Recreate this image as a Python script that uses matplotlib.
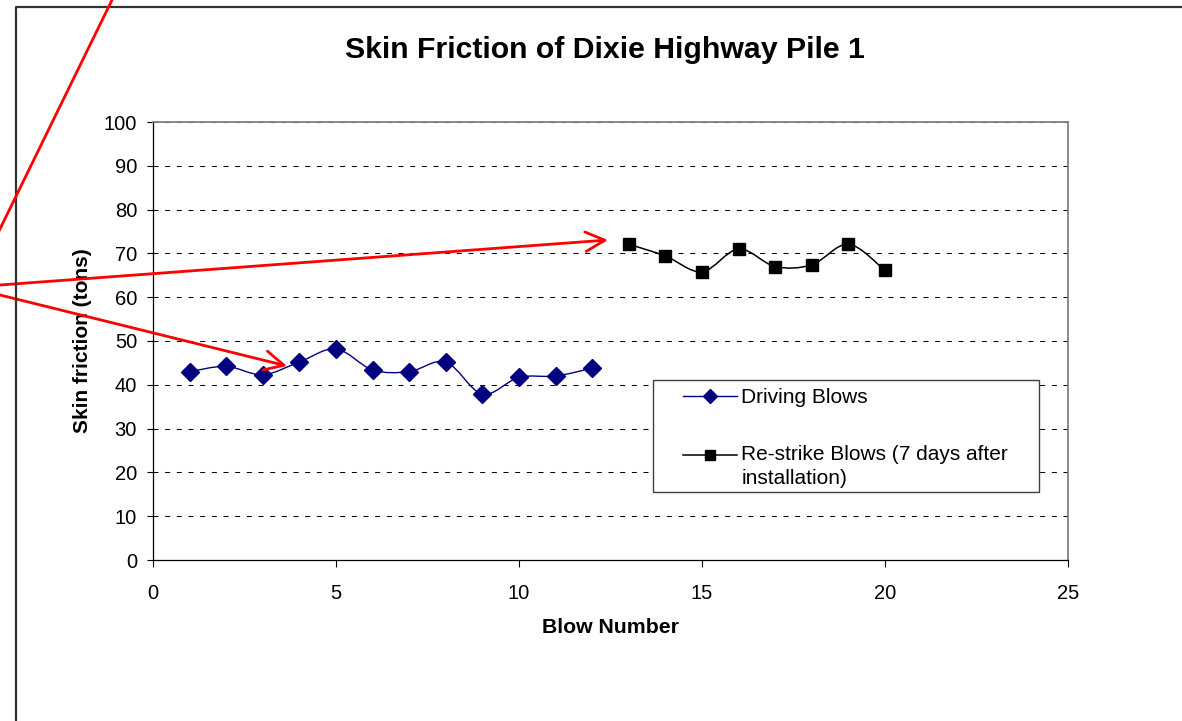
import matplotlib
matplotlib.use('Agg')
import matplotlib.pyplot as plt
import numpy as np
from matplotlib.path import Path
from matplotlib.patches import PathPatch, Rectangle
from matplotlib.lines import Line2D
from matplotlib.legend_handler import HandlerLine2D

# blow numbers and measured skin friction (tons)
driving_blow = [1, 2, 3, 4, 5, 6, 7, 8, 9, 10, 11, 12]
driving_friction = [43.0, 44.2, 42.3, 45.2, 48.2, 43.4, 43.0, 45.2, 37.9, 41.7, 42.0, 43.8]
restrike_blow = [13, 14, 15, 16, 17, 18, 19, 20]
restrike_friction = [72.1, 69.4, 65.8, 71.0, 67.0, 67.4, 72.1, 66.1]

x_ticks = [0, 5, 10, 15, 20, 25]
y_ticks = [0, 10, 20, 30, 40, 50, 60, 70, 80, 90, 100]

title = 'Skin Friction of Dixie Highway Pile 1'
labels = ['Driving Blows', 'Re-strike Blows (7 days after\ninstallation)']

W, H = 1182, 721

plt.rcParams['font.family'] = ['Liberation Sans', 'DejaVu Sans']
plt.rcParams['lines.scale_dashes'] = False


def smooth_path(xs, ys):
    # cubic bezier through the points (catmull-rom style, like excel's smoothed lines)
    pts = np.column_stack([xs, ys]).astype(float)
    n = len(pts)
    verts = [pts[0]]
    codes = [Path.MOVETO]
    for i in range(n - 1):
        p0 = pts[max(i - 1, 0)]
        p1 = pts[i]
        p2 = pts[i + 1]
        p3 = pts[min(i + 2, n - 1)]
        verts += [p1 + (p2 - p0) / 6, p2 - (p3 - p1) / 6, p2]
        codes += [Path.CURVE4] * 3
    return Path(verts, codes)


class FirstLineHandler(HandlerLine2D):
    # puts the legend key level with the first line of a two-line label
    def create_artists(self, legend, orig_handle, xdescent, ydescent, width, height,
                       fontsize, trans):
        artists = super().create_artists(legend, orig_handle, xdescent, ydescent,
                                         width, height, fontsize, trans)
        for a in artists:
            a.set_ydata(np.asarray(a.get_ydata()) + 0.55 * fontsize)
        return artists


def fx(px):
    return px / W


def fy(py):
    return 1 - py / H


fig = plt.figure(figsize=(W / 100, H / 100), dpi=100)
ax = fig.add_axes([fx(153), fy(560), fx(1068) - fx(153), fy(122) - fy(560)])

ax.set(xlim=(0, 25), ylim=(0, 100), xticks=x_ticks, yticks=y_ticks)
ax.tick_params(axis='both', labelsize=14.5, width=0.8, color='black')
ax.tick_params(axis='y', length=4.5, pad=7)
ax.tick_params(axis='x', length=5, pad=12)
for side in ['left', 'bottom']:
    ax.spines[side].set_color('black')
    ax.spines[side].set_linewidth(0.9)
for side in ['top', 'right']:
    ax.spines[side].set_color('#808080')
    ax.spines[side].set_linewidth(1.3)

ax.yaxis.grid(True, color='black', linestyle=(0, (3.6, 4.8)), linewidth=0.75)
ax.set_axisbelow(True)

navy = '#000080'
ax.add_patch(PathPatch(smooth_path(driving_blow, driving_friction), fill=False,
                       edgecolor=navy, linewidth=1.0, zorder=3))
ax.plot(driving_blow, driving_friction, linestyle='none', marker='D', markersize=9,
        color=navy, zorder=4)
ax.add_patch(PathPatch(smooth_path(restrike_blow, restrike_friction), fill=False,
                       edgecolor='black', linewidth=1.1, zorder=3))
ax.plot(restrike_blow, restrike_friction, linestyle='none', marker='s', markersize=9,
        color='black', zorder=4)

ax.set_xlabel('Blow Number', fontsize=15.3, fontweight='bold', va='center')
ax.xaxis.set_label_coords(0.5, -0.153)
ax.set_ylabel('Skin friction (tons)', fontsize=15, fontweight='bold', va='center')
ax.yaxis.set_label_coords((82 - 153) / 915, 0.5)

fig.text(fx(605), fy(58), title, fontsize=21.8, fontweight='bold', ha='center', va='baseline')

# legend box and entries
fig.add_artist(Rectangle((fx(653), fy(492)), fx(1039) - fx(653), fy(380) - fy(492),
                         transform=fig.transFigure, facecolor='white', edgecolor='#404040',
                         linewidth=1.0, zorder=2))
handles = [
    Line2D([], [], color=navy, linewidth=1.0, marker='D', markersize=7.5),
    Line2D([], [], color='black', linewidth=1.1, marker='s', markersize=7.5),
]
leg = fig.legend(handles, labels, loc='upper left', bbox_to_anchor=(fx(683), fy(388)),
                 frameon=False, fontsize=15, handlelength=2.6, handletextpad=0.2,
                 labelspacing=1.8, borderaxespad=0, borderpad=0,
                 handler_map={handles[1]: FirstLineHandler()})
leg.set_zorder(3)
for t in leg.get_texts():
    t.set_linespacing(1.35)

# outer chart frame
fig.add_artist(Line2D([fx(16), fx(16), 1.0], [0.0, fy(7), fy(7)], transform=fig.transFigure,
                      color='#333333', linewidth=1.6))

# red callout lines
fig.add_artist(Line2D([fx(112), fx(-1)], [fy(0), fy(231)], transform=fig.transFigure,
                      color='red', linewidth=2.0, zorder=10))
for start, end in [((0, 285), (608, 240)), ((0, 295), (287, 366))]:
    ax.annotate('', xy=(end[0], H - end[1]), xycoords='figure pixels',
                xytext=(start[0], H - start[1]), textcoords='figure pixels',
                arrowprops=dict(arrowstyle='->,head_length=0.7,head_width=0.35',
                                mutation_scale=20, color='red', lw=2.0,
                                shrinkA=0, shrinkB=0),
                annotation_clip=False, zorder=10)

fig.savefig('out.png', dpi=100)
